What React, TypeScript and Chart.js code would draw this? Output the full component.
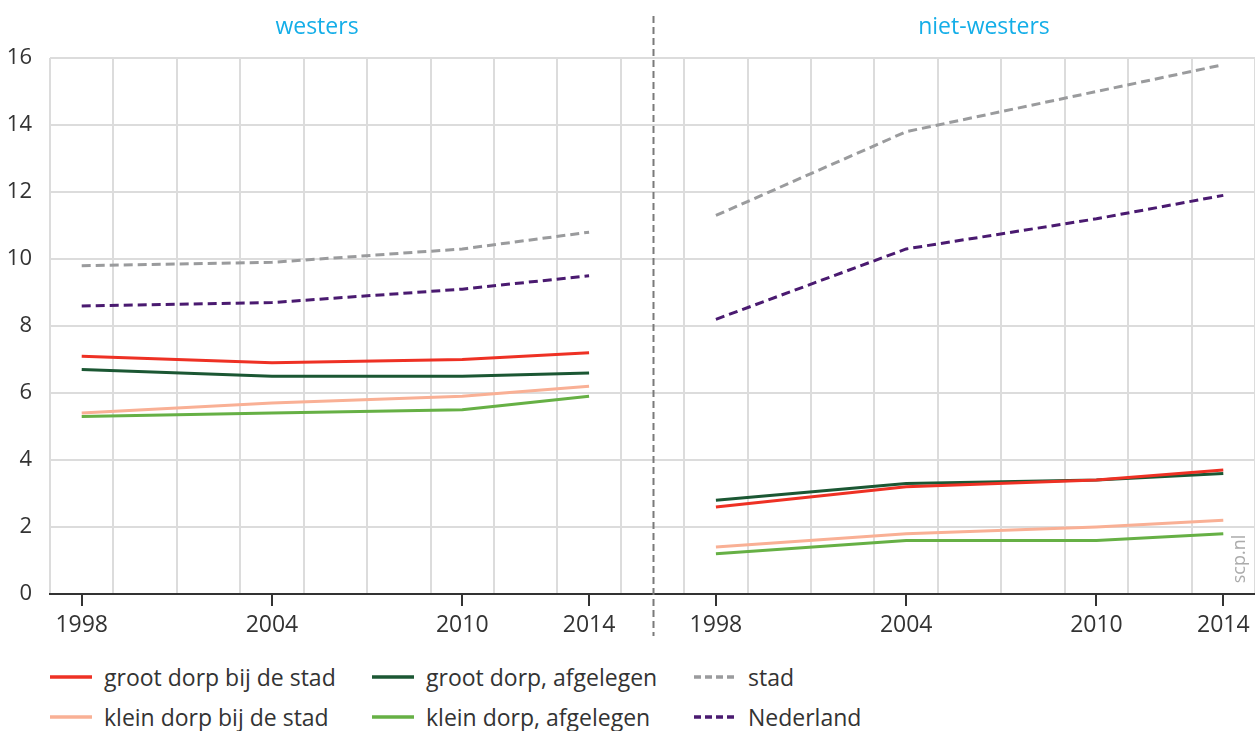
import React, { useEffect, useRef } from 'react';
import { Chart, registerables } from 'chart.js';

Chart.register(...registerables);

// ---- data ----
const years = [1998, 2004, 2010, 2014];
const panelTitles = ['westers', 'niet-westers'];
const yTickValues = [0, 2, 4, 6, 8, 10, 12, 14, 16];

const grootBijStadW = [7.1, 6.9, 7.0, 7.2];
const grootBijStadNW = [2.6, 3.2, 3.4, 3.7];
const grootAfgelegenW = [6.7, 6.5, 6.5, 6.6];
const grootAfgelegenNW = [2.8, 3.3, 3.4, 3.6];
const kleinBijStadW = [5.4, 5.7, 5.9, 6.2];
const kleinBijStadNW = [1.4, 1.8, 2.0, 2.2];
const kleinAfgelegenW = [5.3, 5.4, 5.5, 5.9];
const kleinAfgelegenNW = [1.2, 1.6, 1.6, 1.8];
const stadW = [9.8, 9.9, 10.3, 10.8];
const stadNW = [11.3, 13.8, 15.0, 15.8];
const nederlandW = [8.6, 8.7, 9.1, 9.5];
const nederlandNW = [8.2, 10.3, 11.2, 11.9];

const seriesNames = [
  'groot dorp bij de stad',
  'groot dorp, afgelegen',
  'stad',
  'klein dorp bij de stad',
  'klein dorp, afgelegen',
  'Nederland',
];

// Combined x-axis: left panel covers 1997..2016, right panel 1996..2015
const LEFT_START = 1997;
const SEP = 19;
const RIGHT_START = 1996 - SEP;
const X_MAX = 38;

const series = [
  { name: seriesNames[0], w: grootBijStadW, nw: grootBijStadNW, color: '#ee3124', dash: [] as number[] },
  { name: seriesNames[1], w: grootAfgelegenW, nw: grootAfgelegenNW, color: '#1b5733', dash: [] as number[] },
  { name: seriesNames[2], w: stadW, nw: stadNW, color: '#9a9b9d', dash: [9, 5] },
  { name: seriesNames[3], w: kleinBijStadW, nw: kleinBijStadNW, color: '#f9b095', dash: [] as number[] },
  { name: seriesNames[4], w: kleinAfgelegenW, nw: kleinAfgelegenNW, color: '#66b045', dash: [] as number[] },
  { name: seriesNames[5], w: nederlandW, nw: nederlandNW, color: '#4a1a70', dash: [9, 5] },
];

const labelMap: Record<number, string> = {};
years.forEach((y) => {
  labelMap[y - LEFT_START] = String(y);
  labelMap[y - RIGHT_START] = String(y);
});

const FONT = '"Open Sans", "Noto Sans", sans-serif';
const TEXT = '#333333';
const GRID = '#dcdcdc';

const overlayPlugin = {
  id: 'overlay',
  afterDraw(chart: any) {
    const ctx = chart.ctx;
    const xs = chart.scales.x;
    const sepX = Math.round(xs.getPixelForValue(SEP)) + 0.5;
    ctx.save();
    // separator
    ctx.strokeStyle = '#7a7a7a';
    ctx.lineWidth = 2;
    ctx.setLineDash([7, 4]);
    ctx.beginPath();
    ctx.moveTo(sepX, 16);
    ctx.lineTo(sepX, 636);
    ctx.stroke();
    ctx.setLineDash([]);
    // panel titles
    ctx.fillStyle = '#14aee8';
    ctx.font = `23px ${FONT}`;
    ctx.textAlign = 'center';
    ctx.textBaseline = 'middle';
    ctx.fillText(panelTitles[0], 317, 27);
    ctx.fillText(panelTitles[1], 984, 27);
    // watermark
    ctx.translate(1239.5, 559);
    ctx.rotate(-Math.PI / 2);
    ctx.fillStyle = '#ababab';
    ctx.font = `18px ${FONT}`;
    ctx.fillText('scp.nl', 0, 0);
    ctx.restore();
  },
};

function Swatch({ color, dash }: { color: string; dash: number[] }) {
  return (
    <svg width={42} height={6} style={{ marginRight: 12, flex: 'none' }}>
      <line
        x1={0}
        y1={3}
        x2={42}
        y2={3}
        stroke={color}
        strokeWidth={3.5}
        strokeDasharray={dash.length ? '7 4' : undefined}
      />
    </svg>
  );
}

export default function App() {
  const ref = useRef<HTMLCanvasElement>(null);

  useEffect(() => {
    if (!ref.current) return;
    const datasets = series.map((s) => ({
      label: s.name,
      data: [
        ...years.map((y, i) => ({ x: y - LEFT_START, y: s.w[i] })),
        { x: SEP, y: null },
        ...years.map((y, i) => ({ x: y - RIGHT_START, y: s.nw[i] })),
      ],
      borderColor: s.color,
      backgroundColor: s.color,
      borderWidth: 3,
      borderDash: s.dash,
      borderCapStyle: 'butt' as const,
      pointRadius: 0,
      pointHoverRadius: 0,
      tension: 0,
      spanGaps: false,
      fill: false,
    }));

    const chart = new Chart(ref.current, {
      type: 'line',
      data: { datasets: datasets as any },
      plugins: [overlayPlugin],
      options: {
        animation: false,
        responsive: false,
        maintainAspectRatio: false,
        layout: { padding: { top: 58, left: 0, right: 0, bottom: 0 } },
        plugins: { legend: { display: false }, tooltip: { enabled: false }, title: { display: false } },
        scales: {
          x: {
            type: 'linear',
            min: 0,
            max: X_MAX,
            afterBuildTicks: (scale: any) => {
              scale.ticks = Array.from({ length: X_MAX + 1 }, (_, i) => ({ value: i }));
            },
            afterFit: (scale: any) => {
              scale.height = 56;
              scale.paddingLeft = 0;
              scale.paddingRight = 0;
            },
            ticks: {
              autoSkip: false,
              maxRotation: 0,
              padding: 6,
              color: TEXT,
              font: { family: FONT, size: 23 },
              callback: (v: any) => labelMap[v as number] ?? '',
            },
            grid: {
              color: (c: any) => (c.tick && c.tick.value % 2 === 0 ? GRID : 'rgba(0,0,0,0)'),
              lineWidth: 2,
              drawTicks: true,
              tickLength: 12,
              tickWidth: 2,
              tickColor: (c: any) => (c.tick && labelMap[c.tick.value] ? TEXT : 'rgba(0,0,0,0)'),
            },
            border: { display: true, color: TEXT, width: 2 },
          },
          y: {
            min: 0,
            max: 16,
            afterBuildTicks: (scale: any) => {
              scale.ticks = yTickValues.map((v) => ({ value: v }));
            },
            afterFit: (scale: any) => {
              scale.width = 50;
            },
            ticks: {
              padding: 18,
              color: TEXT,
              font: { family: FONT, size: 22 },
            },
            grid: { color: GRID, lineWidth: 2, drawTicks: false },
            border: { display: false },
          },
        },
      },
    });
    return () => chart.destroy();
  }, []);

  const colX = [50, 372, 694];
  const rowTop = [662, 702];
  const legendOrder = [0, 1, 2, 3, 4, 5];

  return (
    <div style={{ position: 'relative', width: 1255, height: 731, background: '#fff', overflow: 'hidden' }}>
      <style>{`body{margin:0}`}</style>
      <canvas ref={ref} width={1255} height={650} style={{ position: 'absolute', left: 0, top: 0 }} />
      {legendOrder.map((idx, k) => {
        const s = series[idx];
        const col = k % 3;
        const row = Math.floor(k / 3);
        return (
          <div
            key={s.name}
            style={{
              position: 'absolute',
              left: colX[col],
              top: rowTop[row],
              height: 30,
              display: 'flex',
              alignItems: 'center',
              fontFamily: FONT,
              fontSize: 23,
              color: TEXT,
              whiteSpace: 'nowrap',
            }}
          >
            <Swatch color={s.color} dash={s.dash} />
            <span>{s.name}</span>
          </div>
        );
      })}
    </div>
  );
}
